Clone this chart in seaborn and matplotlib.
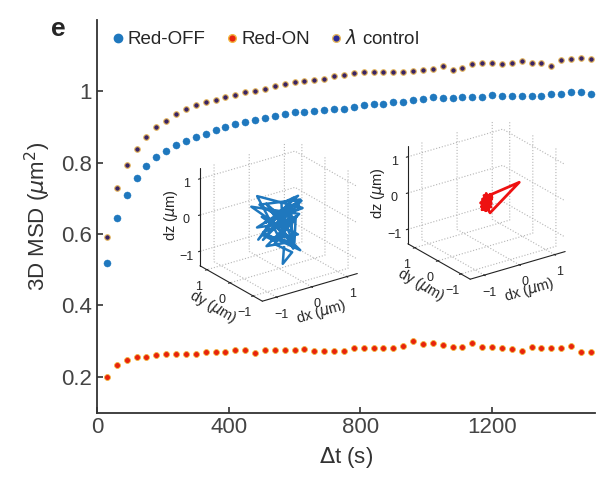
import matplotlib
matplotlib.use("Agg")
import matplotlib.pyplot as plt
import seaborn as sns
import pandas as pd
from matplotlib.lines import Line2D

# lag times (s)
dt = list(range(30, 1501, 30))

red_off = [0.519, 0.645, 0.711, 0.756, 0.791, 0.816, 0.833, 0.850, 0.861, 0.873,
           0.882, 0.891, 0.899, 0.908, 0.913, 0.920, 0.925, 0.931, 0.936, 0.942,
           0.943, 0.945, 0.947, 0.952, 0.952, 0.957, 0.961, 0.966, 0.966, 0.971,
           0.971, 0.975, 0.980, 0.985, 0.981, 0.981, 0.985, 0.985, 0.985, 0.989,
           0.987, 0.987, 0.987, 0.987, 0.987, 0.992, 0.992, 0.997, 0.997, 0.992]

red_on = [0.200, 0.233, 0.247, 0.255, 0.255, 0.261, 0.265, 0.265, 0.265, 0.265,
          0.270, 0.270, 0.270, 0.275, 0.275, 0.268, 0.275, 0.275, 0.275, 0.275,
          0.277, 0.273, 0.273, 0.273, 0.273, 0.280, 0.282, 0.282, 0.282, 0.282,
          0.286, 0.301, 0.291, 0.294, 0.289, 0.284, 0.284, 0.296, 0.284, 0.284,
          0.280, 0.277, 0.273, 0.284, 0.280, 0.280, 0.280, 0.286, 0.269, 0.269]

lam_ctrl = [0.592, 0.728, 0.793, 0.839, 0.873, 0.899, 0.917, 0.936, 0.950, 0.961,
            0.969, 0.975, 0.983, 0.989, 0.997, 1.001, 1.008, 1.016, 1.020, 1.027,
            1.029, 1.032, 1.036, 1.044, 1.046, 1.051, 1.055, 1.055, 1.055, 1.055,
            1.055, 1.058, 1.061, 1.064, 1.072, 1.060, 1.067, 1.078, 1.081, 1.081,
            1.077, 1.081, 1.086, 1.081, 1.081, 1.072, 1.088, 1.091, 1.095, 1.091]

# inset trajectories (um), estimated by eye
blue_dx = [0.0, 0.4, -0.3, 0.5, -0.5, 0.2, 0.6, -0.2, 0.3, -0.4, 0.5, 0.1, -0.3,
           0.4, -0.1, 0.6, 0.2, -0.4, 0.3, 0.5, -0.2, 0.4, 0.0, 0.6, -0.5, 0.3,
           0.5, -0.1, 0.2, 0.6, 0.0, 0.4, -0.3, 0.5, 0.2, 0.1, 0.3, 0.0, 0.4,
           -0.2, 0.5, 0.1, -0.4, 0.3, 0.6, -0.1, 0.2, 0.4, 0.0, 0.3, 0.1, 0.2]
blue_dy = [0.0, -0.3, 0.4, 0.5, -0.2, 0.5, 0.1, -0.4, 0.3, 0.6, -0.1, 0.2, 0.5,
           -0.4, 0.5, 0.0, -0.3, 0.3, 0.5, -0.2, 0.4, 0.1, -0.4, 0.3, 0.2, -0.1,
           0.5, 0.0, -0.3, 0.4, 0.1, -0.2, 0.3, 0.2, -0.1, 0.0, 0.2, 0.1, -0.3,
           0.4, 0.0, 0.3, 0.1, -0.2, 0.2, 0.4, -0.3, 0.1, 0.2, -0.1, 0.0, 0.1]
blue_dz = [0.0, 0.5, 0.3, -0.4, 0.6, -0.2, 0.4, 0.6, -0.5, 0.2, 0.0, -0.6, 0.5,
           0.3, -0.3, 0.1, 0.6, -0.6, -0.1, 0.4, -0.7, 0.2, 0.5, -0.4, -0.2, 0.3,
           -0.6, 0.1, -0.8, -0.3, -0.6, -0.5, 0.0, -0.8, -0.4, 0.2, -0.7, -0.3, -0.9,
           -0.5, -0.1, -0.8, -0.4, -0.7, -0.2, -0.9, -0.6, -0.3, -0.8, -1.0, -1.3, -0.9]

red_dx = [0.0, -0.1, 0.05, -0.12, 0.08, -0.05, 0.1, -0.1, 0.0, 0.12,
          -0.08, 0.05, -0.12, 0.1, 0.75, 0.15, -0.1, 0.05, -0.12, 0.08,
          0.0, -0.08, 0.1, -0.05, 0.06, -0.1, 0.02, 0.1, -0.06, 0.0]
red_dy = [0.0, 0.08, -0.06, 0.1, 0.05, -0.08, 0.06, -0.1, 0.04, 0.0,
          0.08, -0.1, 0.05, 0.0, -0.25, 0.1, -0.05, 0.08, 0.0, -0.08,
          0.05, 0.1, -0.05, 0.06, -0.08, 0.02, 0.1, -0.06, 0.04, 0.0]
red_dz = [0.0, -0.3, 0.05, -0.2, -0.4, -0.05, -0.15, -0.35, 0.05, -0.25,
          -0.1, 0.05, -0.3, 0.0, 0.25, -0.55, -0.2, -0.05, -0.35, 0.0,
          -0.2, -0.4, -0.1, 0.0, -0.3, -0.15, -0.45, -0.05, -0.25, -0.1]

sns.set_style("ticks")
plt.rcParams['font.family'] = ['Liberation Sans', 'DejaVu Sans']
plt.rcParams['mathtext.fontset'] = 'dejavusans'
plt.rcParams['grid.linestyle'] = ':'
plt.rcParams['grid.color'] = '#b5b5b5'
plt.rcParams['grid.linewidth'] = 0.8

C_OFF = '#1f78be'
C_ON = '#e8230e'
C_ON_EDGE = '#f2b640'
C_LAM = '#3a2363'
C_LAM_EDGE = '#e6b860'

df = pd.DataFrame({'dt': dt * 3,
                   'msd': red_off + red_on + lam_ctrl,
                   'series': ['Red-OFF'] * 50 + ['Red-ON'] * 50 + ['ctrl'] * 50})

fig = plt.figure(figsize=(5.99, 4.78), dpi=100)
ax = fig.add_axes([0.162, 0.137, 0.831, 0.821])

sns.scatterplot(data=df[df.series == 'ctrl'], x='dt', y='msd', ax=ax, s=16,
                color=C_LAM, edgecolor=C_LAM_EDGE, linewidth=0.8, clip_on=False)
sns.scatterplot(data=df[df.series == 'Red-OFF'], x='dt', y='msd', ax=ax, s=26,
                color=C_OFF, edgecolor=C_OFF, linewidth=0.3, clip_on=False)
sns.scatterplot(data=df[df.series == 'Red-ON'], x='dt', y='msd', ax=ax, s=18,
                color=C_ON, edgecolor=C_ON_EDGE, linewidth=0.6, clip_on=False)

ax.set_xlim(0, 1512)
ax.set_ylim(0.1, 1.2)
ax.set_xticks([0, 400, 800, 1200])
ax.set_yticks([0.2, 0.4, 0.6, 0.8, 1.0])
ax.set_yticklabels(['0.2', '0.4', '0.6', '0.8', '1'])
ax.tick_params(direction='in', labelsize=16, colors='#333333', length=4, width=1.2)
ax.tick_params(axis='x', labelcolor='#444444')
ax.tick_params(axis='y', labelcolor='#444444')
for sp in ['left', 'bottom']:
    ax.spines[sp].set_color('#333333')
    ax.spines[sp].set_linewidth(1.3)
sns.despine(ax=ax)
ax.set_xlabel(r'$\Delta$t (s)', fontsize=16, color='#333333', labelpad=5)
ax.set_ylabel(r'3D MSD ($\mu$m$^2$)', fontsize=16, color='#333333', labelpad=6)

handles = [
    Line2D([], [], marker='o', ls='', color=C_OFF, markersize=6),
    Line2D([], [], marker='o', ls='', color=C_ON, markeredgecolor=C_ON_EDGE, markersize=5.5),
    Line2D([], [], marker='o', ls='', color='#2a2a9a', markeredgecolor=C_LAM_EDGE, markersize=5.5),
]
ax.legend(handles, ['Red-OFF', 'Red-ON', r'$\lambda$ control'], loc='upper left',
          bbox_to_anchor=(-0.01, 1.02), ncol=3, frameon=False, fontsize=13.5,
          handletextpad=0.0, columnspacing=0.9, handlelength=1.0)

fig.text(0.085, 0.94, 'e', fontsize=19, fontweight='bold', ha='left', va='center')


def style3d(a, x, y, z, col, lw):
    a.plot(x, y, z, color=col, lw=lw)
    a.set_proj_type('ortho')
    a.view_init(elev=24, azim=-125.6)
    a.set_box_aspect((1.09, 1, 1))
    a.set_xlim(-1.4, 1.3)
    a.set_ylim(-1.4, 1.3)
    a.set_zlim(-1.4, 1.3)
    for axis in (a.xaxis, a.yaxis, a.zaxis):
        axis.set_pane_color((1, 1, 1, 0))
        axis.pane.set_edgecolor((1, 1, 1, 0))
        axis.line.set_color('#222222')
        axis.set_ticks([-1, 0, 1])
    a.tick_params(labelsize=9, pad=-2)
    a.set_xlabel(r'dx ($\mu$m)', fontsize=10.5, labelpad=-8)
    a.set_ylabel(r'dy ($\mu$m)', fontsize=10.5, labelpad=-8)
    a.set_zlabel(r'dz ($\mu$m)', fontsize=10.5, labelpad=-8)
    a.patch.set_alpha(0)


ax1 = fig.add_axes([0.306, 0.336, 0.31, 0.394], projection='3d')
style3d(ax1, blue_dx, blue_dy, blue_dz, C_OFF, 1.8)
ax2 = fig.add_axes([0.653, 0.382, 0.31, 0.394], projection='3d')
style3d(ax2, red_dx, red_dy, red_dz, '#ee1111', 2.0)

fig.savefig('out.png', dpi=100)
